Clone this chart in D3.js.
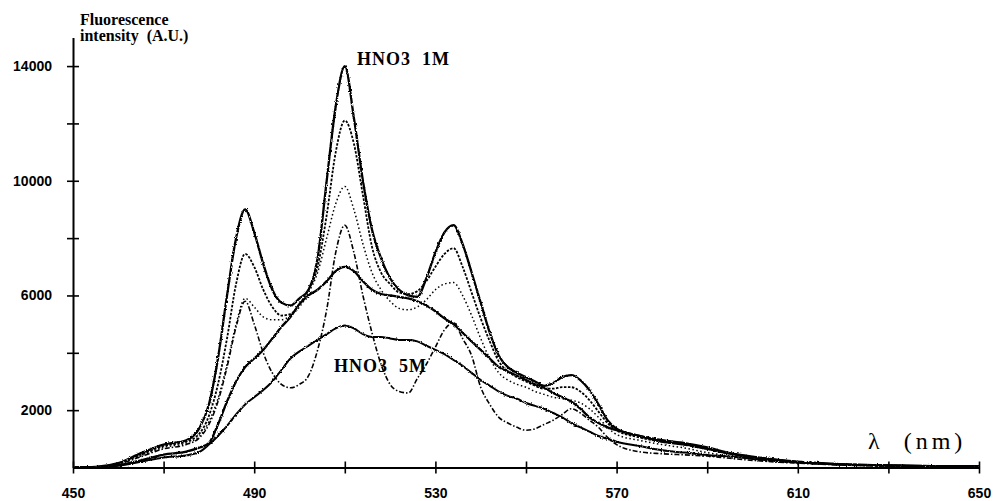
<!DOCTYPE html>
<html>
<head>
<meta charset="utf-8">
<script src="https://cdn.jsdelivr.net/npm/d3@7"></script>
<style>
  body { margin: 0; background: #fff; }
  svg { display: block; }
  .tick text { font-family: "Liberation Sans", Arial, sans-serif; font-size: 14px; font-weight: bold; fill: #000; }
  .lbl { font-family: "Liberation Serif", "Times New Roman", serif; fill: #000; white-space: pre; }
</style>
</head>
<body>
<div id="chart"></div>
<script>
// wavelengths (nm) shared by all spectra
const lambda = [450, 455, 460, 465, 470, 475, 478, 480, 482, 484, 486, 488, 490, 492, 494, 496, 498,
  500, 502, 504, 506, 508, 510, 512, 514, 516, 518, 520, 522, 524, 526, 528, 530, 532, 534, 536, 538,
  540, 542, 544, 546, 548, 550, 552, 554, 556, 558, 560, 562, 564, 566, 568, 570, 575, 580, 585, 590,
  595, 600, 610, 620, 630, 640, 650];

// HNO3 1M (top solid)
const hno3_1M = [0, 20, 150, 500, 800, 950, 1400, 2200, 3800, 6000, 8000, 9000, 8200, 7100, 6200, 5750, 5650,
  5900, 6200, 7300, 10000, 12600, 14000, 12200, 10000, 8300, 7300, 6600, 6200, 6000, 5950, 6600, 7500, 8200, 8450, 7800, 6800,
  5750, 4700, 3900, 3500, 3300, 3150, 3000, 2850, 2950, 3150, 3220, 3050, 2700, 2200, 1650, 1350, 1100, 950, 850, 700,
  500, 380, 200, 110, 70, 50, 40];

// intermediate concentrations
const serieB = [0, 20, 150, 450, 750, 900, 1200, 1800, 2900, 4500, 6400, 7450, 7000, 6200, 5600, 5300, 5350,
  5700, 6200, 7000, 8800, 11000, 12100, 11300, 9500, 7700, 6800, 6400, 6100, 6050, 6150, 6500, 7000, 7450, 7650, 7000, 6100,
  5200, 4400, 3700, 3350, 3150, 3000, 2850, 2750, 2750, 2800, 2800, 2650, 2350, 1950, 1550, 1300, 1050, 900, 800, 650,
  480, 360, 190, 110, 70, 50, 40];

const serieC = [0, 20, 130, 400, 700, 850, 1100, 1600, 2400, 3600, 5000, 5900, 5600, 5250, 5150, 5150, 5300,
  5600, 6100, 6800, 8000, 9200, 9800, 9000, 7800, 6800, 6200, 5800, 5550, 5500, 5600, 5850, 6200, 6400, 6450, 6000, 5300,
  4500, 3800, 3300, 3050, 2900, 2800, 2650, 2550, 2450, 2400, 2350, 2250, 2050, 1750, 1400, 1150, 950, 800, 680, 520,
  400, 300, 170, 100, 60, 50, 40];

const serieD = [0, 20, 120, 380, 650, 800, 1050, 1500, 2300, 3500, 4900, 5800, 5000, 4000, 3300, 2900, 2780,
  2900, 3200, 4100, 5500, 7500, 8450, 7500, 6000, 4700, 3600, 2900, 2650, 2600, 3100, 3600, 4200, 4800, 5050, 4500, 3900,
  2800, 2200, 1750, 1550, 1400, 1300, 1350, 1500, 1650, 1850, 2050, 1900, 1650, 1400, 1050, 800, 550, 480, 440, 400,
  320, 250, 150, 90, 60, 50, 40];

const serieE = [0, 10, 80, 250, 450, 550, 700, 850, 1500, 2300, 3000, 3500, 3800, 4100, 4500, 4900, 5250,
  5700, 6000, 6200, 6500, 6850, 7000, 6850, 6500, 6200, 6050, 6000, 5950, 5900, 5800, 5650, 5450, 5200, 5000, 4700, 4400,
  4100, 3800, 3500, 3350, 3200, 3050, 2900, 2780, 2600, 2450, 2300, 2050, 1750, 1550, 1400, 1300, 1100, 900, 800, 650,
  480, 360, 190, 110, 70, 50, 40];

// HNO3 5M (lowest solid)
const hno3_5M = [0, 10, 60, 200, 350, 420, 550, 800, 1100, 1450, 1850, 2200, 2450, 2700, 3000, 3400, 3800,
  4050, 4250, 4450, 4650, 4850, 4950, 4850, 4650, 4550, 4550, 4500, 4450, 4450, 4400, 4250, 4100, 3950, 3750, 3550, 3300,
  3050, 2850, 2650, 2500, 2400, 2250, 2150, 2050, 1900, 1750, 1550, 1400, 1250, 1100, 1000, 900, 750, 600, 520, 440,
  380, 300, 170, 100, 60, 50, 40];

const xTicks = [450, 470, 490, 510, 530, 550, 570, 590, 610, 630, 650];
const xLabels = [450, 490, 530, 570, 610, 650];
const yTicks = [2000, 4000, 6000, 8000, 10000, 12000, 14000];
const yLabels = [2000, 6000, 10000, 14000];

const width = 996, height = 501;

const svg = d3.select("#chart").append("svg")
  .attr("width", width)
  .attr("height", height);

// scanned-paper roughness for the solid traces
const rough = svg.append("defs").append("filter")
  .attr("id", "rough")
  .attr("filterUnits", "userSpaceOnUse")
  .attr("x", 0).attr("y", 0).attr("width", width).attr("height", height);
rough.append("feTurbulence")
  .attr("type", "fractalNoise").attr("baseFrequency", 0.8)
  .attr("numOctaves", 1).attr("seed", 3).attr("result", "noise");
rough.append("feDisplacementMap")
  .attr("in", "SourceGraphic").attr("in2", "noise")
  .attr("scale", 3).attr("xChannelSelector", "R").attr("yChannelSelector", "G");

const x = d3.scaleLinear().domain([450, 650]).range([73, 979]);
const y = d3.scaleLinear().domain([0, 15000]).range([467.5, 37.4]);

// spectra
const series = [
  { v: serieE, w: 2.3, dash: null, rough: true },
  { v: hno3_5M, w: 2, dash: null, rough: true },
  { v: serieD, w: 1.6, dash: "5,2,1.5,2", rough: false },
  { v: serieC, w: 1.5, dash: "1.5,2.5", rough: false },
  { v: serieB, w: 1.8, dash: "2.5,1.5", rough: false },
  { v: hno3_1M, w: 2.3, dash: null, rough: true }
];

const line = d3.line()
  .x((d, i) => x(lambda[i]))
  .y(d => y(d))
  .curve(d3.curveMonotoneX);

svg.append("g").selectAll("path")
  .data(series)
  .enter().append("path")
  .attr("d", d => line(d.v))
  .attr("fill", "none")
  .attr("stroke", "#000")
  .attr("stroke-width", d => d.w)
  .attr("stroke-dasharray", d => d.dash)
  .attr("stroke-linejoin", "round")
  .attr("filter", d => d.rough ? "url(#rough)" : null);

// x axis
const xAxis = svg.append("g")
  .attr("transform", `translate(0,${y(0)})`)
  .call(d3.axisBottom(x).tickValues(xTicks).tickSize(0).tickSizeOuter(0).tickPadding(21)
    .tickFormat(d => xLabels.includes(d) ? d : ""));
xAxis.select(".domain").attr("stroke-width", 2);
xAxis.selectAll(".tick").append("line")
  .attr("y1", -6).attr("y2", 6)
  .attr("stroke", "#000").attr("stroke-width", 1.6);

// y axis
const yAxis = svg.append("g")
  .attr("transform", `translate(${x(450)},0)`)
  .call(d3.axisLeft(y).tickValues(yTicks).tickSize(0).tickSizeOuter(0).tickPadding(21)
    .tickFormat(d => yLabels.includes(d) ? d : ""));
yAxis.select(".domain").attr("stroke-width", 2);
yAxis.selectAll(".tick").append("line")
  .attr("x1", -6).attr("x2", 6)
  .attr("stroke", "#000").attr("stroke-width", 1.6);

// labels
svg.append("text").attr("class", "lbl")
  .attr("x", 80).attr("y", 25).style("font-size", "16px").style("font-weight", "bold")
  .text("Fluorescence");
svg.append("text").attr("class", "lbl")
  .attr("x", 80).attr("y", 41).style("font-size", "16px").style("font-weight", "bold")
  .text("intensity  (A.U.)");

svg.append("text").attr("class", "lbl")
  .attr("x", 357).attr("y", 65).style("font-size", "18px").style("font-weight", "bold")
  .style("letter-spacing", "1px")
  .text("HNO3  1M");
svg.append("text").attr("class", "lbl")
  .attr("x", 334).attr("y", 372).style("font-size", "18px").style("font-weight", "bold")
  .style("letter-spacing", "1px")
  .text("HNO3  5M");

svg.append("text").attr("class", "lbl")
  .attr("x", 868).attr("y", 449).style("font-size", "24px").style("letter-spacing", "4px")
  .text("λ  (nm)");
</script>
</body>
</html>
